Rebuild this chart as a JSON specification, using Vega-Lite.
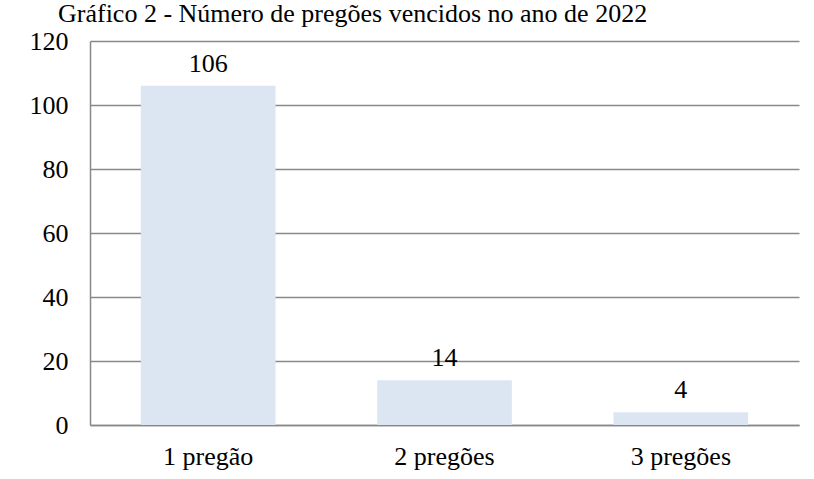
{
  "$schema": "https://vega.github.io/schema/vega-lite/v6.json",
  "width": 709,
  "height": 384,
  "autosize": {"type": "none"},
  "padding": {"left": 90, "top": 41, "right": 15, "bottom": 54},
  "background": "white",
  "title": {
    "text": "Gráfico 2 - Número de pregões vencidos no ano de 2022",
    "anchor": "start",
    "frame": "group",
    "baseline": "alphabetic",
    "offset": 0,
    "dy": 20,
    "dx": -32,
    "font": "Liberation Serif",
    "fontSize": 26,
    "fontWeight": "normal",
    "color": "black"
  },
  "data": {
    "values": [
      {"categoria": "1 pregão", "quantidade": 106},
      {"categoria": "2 pregões", "quantidade": 14},
      {"categoria": "3 pregões", "quantidade": 4}
    ]
  },
  "encoding": {
    "x": {
      "field": "categoria",
      "type": "nominal",
      "sort": null,
      "scale": {"paddingInner": 0.43, "paddingOuter": 0.215},
      "axis": {
        "title": null,
        "labelAngle": 0,
        "labelFont": "Liberation Serif",
        "labelFontSize": 26,
        "labelColor": "black",
        "labelPadding": 18,
        "ticks": false,
        "domainColor": "#898989",
        "domainWidth": 1.5,
        "grid": false
      }
    },
    "y": {
      "field": "quantidade",
      "type": "quantitative",
      "scale": {"domain": [0, 120], "nice": false},
      "axis": {
        "title": null,
        "values": [0, 20, 40, 60, 80, 100, 120],
        "labelFont": "Liberation Serif",
        "labelFontSize": 26,
        "labelColor": "black",
        "labelPadding": 22,
        "ticks": false,
        "domainColor": "#898989",
        "domainWidth": 1.5,
        "gridColor": "#898989",
        "gridWidth": 1.5,
        "gridOpacity": 1
      }
    }
  },
  "layer": [
    {"mark": {"type": "bar", "color": "#DCE6F2"}},
    {
      "mark": {
        "type": "text",
        "baseline": "alphabetic",
        "dy": -14,
        "font": "Liberation Serif",
        "fontSize": 26,
        "color": "black"
      },
      "encoding": {"text": {"field": "quantidade", "type": "quantitative"}}
    }
  ],
  "config": {"view": {"stroke": null}}
}
